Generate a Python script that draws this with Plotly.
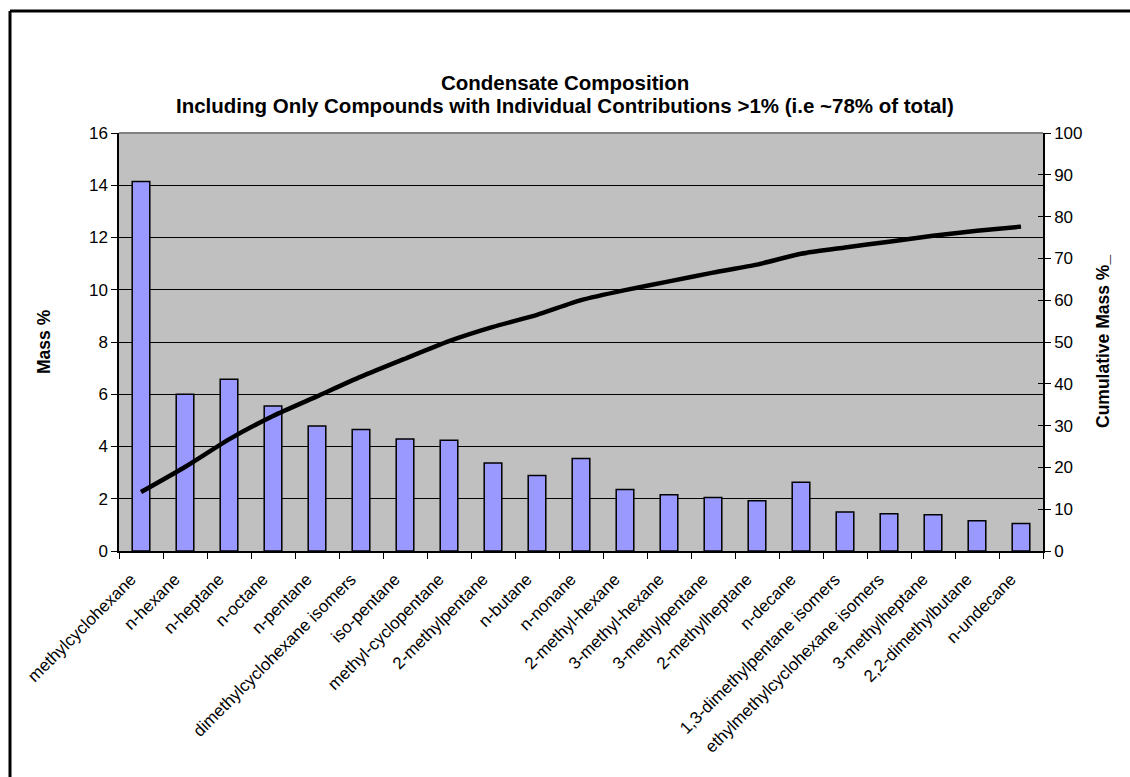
import plotly.graph_objects as go

compounds = [
    "methylcyclohexane", "n-hexane", "n-heptane", "n-octane", "n-pentane",
    "dimethylcyclohexane isomers", "iso-pentane", "methyl-cyclopentane",
    "2-methylpentane", "n-butane", "n-nonane", "2-methyl-hexane",
    "3-methyl-hexane", "3-methylpentane", "2-methylheptane", "n-decane",
    "1,3-dimethylpentane isomers", "ethylmethylcyclohexane isomers",
    "3-methylheptane", "2,2-dimethylbutane", "n-undecane",
]
mass_pct = [14.14, 6.00, 6.57, 5.55, 4.78, 4.65, 4.29, 4.24, 3.37, 2.89, 3.54,
            2.35, 2.15, 2.05, 1.92, 2.63, 1.49, 1.43, 1.39, 1.16, 1.05]
cumulative_pct = [14.1, 20.1, 26.7, 32.3, 37.0, 41.7, 46.0, 50.2, 53.6, 56.5, 60.0,
                  62.4, 64.5, 66.6, 68.5, 71.1, 72.6, 74.0, 75.4, 76.6, 77.6]

left_ticks = [0, 2, 4, 6, 8, 10, 12, 14, 16]
right_ticks = [0, 10, 20, 30, 40, 50, 60, 70, 80, 90, 100]

title_line1 = "Condensate Composition"
title_line2 = "Including Only Compounds with Individual Contributions >1% (i.e ~78% of total)"

FONT = "Liberation Sans, Arial, sans-serif"
W, H = 1130, 777
M_L, M_R, M_T, M_B = 119, 87, 133, 226
plot_w, plot_h = W - M_L - M_R, H - M_T - M_B


def px_to_paper_x(px):
    return (px - M_L) / plot_w


def px_to_paper_y(py):
    return (H - M_B - py) / plot_h


fig = go.Figure()
fig.add_trace(go.Bar(
    x=compounds, y=mass_pct, width=0.4,
    marker=dict(color="#9999FF", line=dict(color="#000000", width=1.5)),
    yaxis="y", showlegend=False,
))
fig.add_trace(go.Scatter(
    x=compounds, y=cumulative_pct, mode="lines",
    line=dict(color="#000000", width=4.5, shape="spline", smoothing=0.6),
    yaxis="y2", showlegend=False,
))
# invisible trace so the tick-only right axis (cross ticks) is rendered
fig.add_trace(go.Scatter(x=[compounds[0]], y=[0], yaxis="y3", mode="lines",
                         line=dict(width=0), showlegend=False, hoverinfo="skip"))

n = len(compounds)
fig.update_layout(
    width=W, height=H,
    margin=dict(l=M_L, r=M_R, t=M_T, b=M_B),
    paper_bgcolor="#FFFFFF",
    plot_bgcolor="#C0C0C0",
    font=dict(family=FONT, size=17, color="#000000"),
    xaxis=dict(
        type="category", range=[-0.5, n - 0.5], tickangle=-45, tickson="boundaries",
        ticks="outside", ticklen=6, tickcolor="#000000",
        ticklabelstandoff=10, ticklabelshift=-10,
        showline=True, linecolor="#000000", linewidth=1.5,
        showgrid=False, tickfont=dict(size=17),
    ),
    yaxis=dict(
        range=[0, 16], tickvals=left_ticks,
        ticks="outside", ticklen=6, tickcolor="#000000",
        showline=True, linecolor="#000000", linewidth=1.5,
        showgrid=True, gridcolor="#000000", gridwidth=1,
        zeroline=False, tickfont=dict(size=17),
    ),
    yaxis2=dict(
        range=[0, 100], tickvals=right_ticks, overlaying="y", side="right",
        ticks="outside", ticklen=6, tickcolor="#000000",
        showline=True, linecolor="#000000", linewidth=1.5,
        showgrid=False, zeroline=False, tickfont=dict(size=17),
    ),
    yaxis3=dict(
        range=[0, 100], tickvals=right_ticks, overlaying="y", side="right",
        anchor="x", ticks="inside", ticklen=5, tickcolor="#000000",
        showticklabels=False, showline=False, showgrid=False, zeroline=False,
    ),
    annotations=[
        dict(text=f"<b>{title_line1}</b>", x=px_to_paper_x(565), y=px_to_paper_y(82),
             xref="paper", yref="paper", showarrow=False,
             xanchor="center", yanchor="middle", font=dict(family=FONT, size=20.5)),
        dict(text=f"<b>{title_line2}</b>", x=px_to_paper_x(565), y=px_to_paper_y(105),
             xref="paper", yref="paper", showarrow=False,
             xanchor="center", yanchor="middle", font=dict(family=FONT, size=20.5)),
        dict(text="<b>Mass %</b>", x=px_to_paper_x(44), y=0.5, xref="paper", yref="paper",
             textangle=-90, showarrow=False, xanchor="center", yanchor="middle",
             font=dict(family=FONT, size=17.5)),
        dict(text="<b>Cumulative Mass %_</b>", x=px_to_paper_x(1103), y=0.5,
             xref="paper", yref="paper",
             textangle=-90, showarrow=False, xanchor="center", yanchor="middle",
             font=dict(family=FONT, size=17.5)),
    ],
    shapes=[
        # gray top edge of the plot area
        dict(type="line", xref="paper", yref="paper", x0=0, x1=1, y0=1, y1=1,
             line=dict(color="#808080", width=2), layer="above"),
        # chart frame: left and top edges, kept inside the page
        dict(type="line", xref="paper", yref="paper",
             x0=px_to_paper_x(10), x1=px_to_paper_x(10),
             y0=px_to_paper_y(H), y1=px_to_paper_y(11),
             line=dict(color="#000000", width=3), layer="above"),
        dict(type="line", xref="paper", yref="paper",
             x0=px_to_paper_x(10), x1=px_to_paper_x(W),
             y0=px_to_paper_y(11), y1=px_to_paper_y(11),
             line=dict(color="#000000", width=3), layer="above"),
    ],
)

fig.write_html("out.html")
